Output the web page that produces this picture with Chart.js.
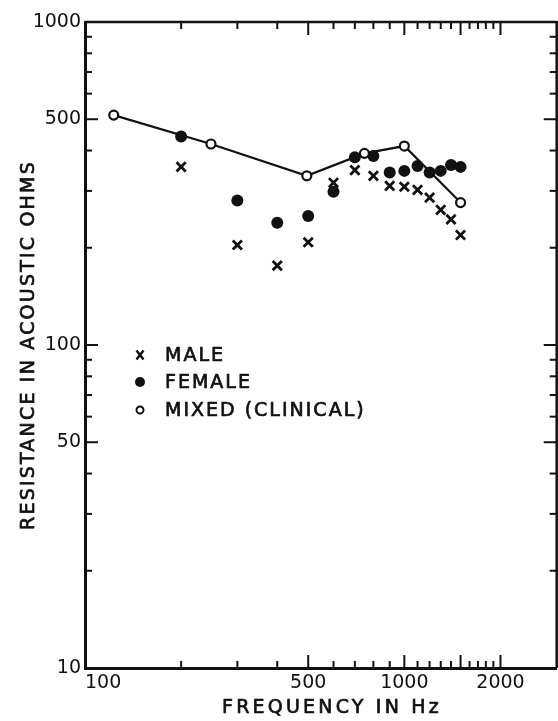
<!DOCTYPE html>
<html>
<head>
<meta charset="utf-8">
<script src="https://cdn.jsdelivr.net/npm/chart.js@4"></script>
<style>
  html, body { margin: 0; padding: 0; background: #fff; overflow: hidden; }
  canvas { display: block; }
</style>
</head>
<body>
<canvas id="resistanceChart" width="566" height="721"></canvas>
<script>
// values (Hz, acoustic ohms)
const maleFreq = [200, 300, 400, 500, 600, 700, 800, 900, 1000, 1100, 1200, 1300, 1400, 1500];
const maleRes = [356, 204, 176, 208, 318, 348, 334, 311, 309, 302, 286, 262, 245, 219];

const femaleFreq = [200, 300, 400, 500, 600, 700, 800, 900, 1000, 1100, 1200, 1300, 1400, 1500];
const femaleRes = [442, 280, 239, 251, 298, 381, 385, 342, 346, 358, 342, 346, 361, 356];

const mixedFreq = [123, 248, 495, 750, 1000, 1500];
const mixedRes = [515, 419, 334, 392, 413, 276];

const xLabelValues = [100, 500, 1000, 2000];
const yLabelValues = [10, 50, 100, 500, 1000];
const xMinorTicks = [200, 300, 400, 600, 700, 800, 900, 1100, 1200, 1300, 1400, 1600, 1700, 1800, 1900];
const xMajorTicks = [500, 1000, 1500, 2000];
const yMinorTicks = [20, 30, 40, 60, 70, 80, 90, 200, 300, 400, 600, 700, 800, 900];
const yMajorTicks = [50, 100, 500];

const legendLabels = ["MALE", "FEMALE", "MIXED (CLINICAL)"];

const ink = "#111";
const toPoints = (xs, ys) => xs.map((x, i) => ({ x: x, y: ys[i] }));

// filled + lightly stroked text so the lettering is as heavy as the scan
const heavyText = (ctx, txt, x, y) => {
  ctx.fillText(txt, x, y);
  ctx.strokeText(txt, x, y);
};

const framePlugin = {
  id: "frame",
  afterDraw(chart) {
    const { ctx, chartArea: area, scales } = chart;
    const xs = scales.x, ys = scales.y;
    ctx.save();
    ctx.strokeStyle = ink;
    ctx.fillStyle = ink;

    // top + right edge of the box
    ctx.lineWidth = 2.5;
    ctx.beginPath();
    ctx.moveTo(area.left, area.top);
    ctx.lineTo(area.right, area.top);
    ctx.lineTo(area.right, area.bottom);
    ctx.stroke();

    const line = (x1, y1, x2, y2) => {
      ctx.beginPath();
      ctx.moveTo(x1, y1);
      ctx.lineTo(x2, y2);
      ctx.stroke();
    };

    // inward tick marks on all four sides
    ctx.lineWidth = 2;
    const xTick = (v, len) => {
      const px = xs.getPixelForValue(v);
      line(px, area.bottom, px, area.bottom - len);
      line(px, area.top, px, area.top + len);
    };
    const yTick = (v, len) => {
      const py = ys.getPixelForValue(v);
      line(area.left, py, area.left + len, py);
      line(area.right, py, area.right - len, py);
    };
    xMinorTicks.forEach(v => xTick(v, 7));
    xMajorTicks.forEach(v => xTick(v, 13));
    yMinorTicks.forEach(v => yTick(v, 7));
    yMajorTicks.forEach(v => yTick(v, 13));

    // axis titles
    ctx.font = "19px 'DejaVu Sans'";
    ctx.lineWidth = 0.7;
    ctx.textBaseline = "middle";
    ctx.textAlign = "center";
    ctx.letterSpacing = "3.2px";
    heavyText(ctx, "FREQUENCY IN Hz", 332, 708);

    ctx.save();
    ctx.translate(29, (area.top + area.bottom) / 2);
    ctx.rotate(-Math.PI / 2);
    ctx.letterSpacing = "2.2px";
    heavyText(ctx, "RESISTANCE IN ACOUSTIC OHMS", 0, 0);
    ctx.restore();

    // legend inside the plot
    const lx = 140, rows = [355, 382, 410];
    ctx.letterSpacing = "2px";
    ctx.textAlign = "left";
    legendLabels.forEach((txt, i) => heavyText(ctx, txt, 165, rows[i] + 1));

    ctx.lineWidth = 2.4;
    line(lx - 3.5, rows[0] - 4.5, lx + 3.5, rows[0] + 4.5);
    line(lx + 3.5, rows[0] - 4.5, lx - 3.5, rows[0] + 4.5);
    ctx.beginPath();
    ctx.arc(lx, rows[1], 5, 0, Math.PI * 2);
    ctx.fill();
    ctx.lineWidth = 2;
    ctx.beginPath();
    ctx.arc(lx, rows[2], 3.5, 0, Math.PI * 2);
    ctx.stroke();

    ctx.restore();
  }
};

Chart.defaults.font.family = "'DejaVu Sans'";
Chart.defaults.color = ink;

const ctx = document.getElementById("resistanceChart").getContext("2d");
const resistanceChart = new Chart(ctx, {
  type: "scatter",
  data: {
    datasets: [
      {
        label: "MIXED (CLINICAL)",
        data: toPoints(mixedFreq, mixedRes),
        showLine: true,
        borderColor: ink,
        borderWidth: 2.2,
        pointStyle: "circle",
        pointRadius: 4.5,
        pointBorderWidth: 2.2,
        pointBorderColor: ink,
        pointBackgroundColor: "#fff"
      },
      {
        label: "MALE",
        data: toPoints(maleFreq, maleRes),
        pointStyle: "crossRot",
        pointRadius: 6.5,
        pointBorderWidth: 2.8,
        pointBorderColor: ink
      },
      {
        label: "FEMALE",
        data: toPoints(femaleFreq, femaleRes),
        pointStyle: "circle",
        pointRadius: 6,
        pointBorderWidth: 0,
        pointBackgroundColor: ink,
        pointBorderColor: ink
      }
    ]
  },
  options: {
    responsive: false,
    animation: false,
    events: [],
    layout: { padding: { top: 22, right: 2, left: 0, bottom: 0 } },
    plugins: {
      legend: { display: false },
      tooltip: { enabled: false }
    },
    scales: {
      x: {
        type: "logarithmic",
        min: 100,
        max: 3000,
        afterFit: s => { s.height = 53; },
        afterBuildTicks: s => {
          s.ticks = xLabelValues.concat([3000]).map(v => ({ value: v }));
        },
        grid: { display: false, drawTicks: false },
        border: { display: true, color: ink, width: 3 },
        ticks: {
          align: "inner",
          padding: 4,
          maxRotation: 0,
          autoSkip: false,
          font: { size: 19 },
          callback: v => (xLabelValues.includes(v) ? String(v) : "")
        }
      },
      y: {
        type: "logarithmic",
        min: 10,
        max: 1000,
        afterFit: s => { s.width = 85; },
        afterBuildTicks: s => {
          s.ticks = yLabelValues.map(v => ({ value: v }));
        },
        grid: { display: false, drawTicks: false },
        border: { display: true, color: ink, width: 3 },
        ticks: {
          padding: 4,
          autoSkip: false,
          font: { size: 19 },
          callback: v => (yLabelValues.includes(v) ? String(v) : "")
        }
      }
    }
  },
  plugins: [framePlugin]
});
</script>
</body>
</html>
